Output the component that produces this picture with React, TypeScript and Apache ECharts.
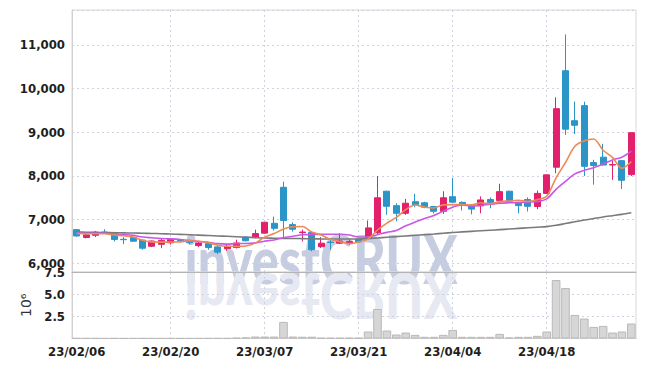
import React, { useEffect, useRef } from 'react';
import * as echarts from 'echarts';

const dates = [
  '23/02/06', '23/02/07', '23/02/08', '23/02/09', '23/02/10', '23/02/13', '23/02/14', '23/02/15', '23/02/16', '23/02/17',
  '23/02/20', '23/02/21', '23/02/22', '23/02/23', '23/02/24', '23/02/27', '23/02/28', '23/03/02', '23/03/03', '23/03/06',
  '23/03/07', '23/03/08', '23/03/09', '23/03/10', '23/03/13', '23/03/14', '23/03/15', '23/03/16', '23/03/17', '23/03/20',
  '23/03/21', '23/03/22', '23/03/23', '23/03/24', '23/03/27', '23/03/28', '23/03/29', '23/03/30', '23/03/31', '23/04/03',
  '23/04/04', '23/04/05', '23/04/06', '23/04/07', '23/04/10', '23/04/11', '23/04/12', '23/04/13', '23/04/14', '23/04/17',
  '23/04/18', '23/04/19', '23/04/20', '23/04/21', '23/04/24', '23/04/25', '23/04/26', '23/04/27', '23/04/28', '23/05/02',
];

const opens = [
  6770, 6590, 6640, 6715, 6700, 6550, 6590, 6530, 6390, 6435,
  6470, 6530, 6525, 6405, 6450, 6375, 6330, 6360, 6600, 6590,
  6690, 6915, 7740, 6885, 6700, 6705, 6380, 6485, 6460, 6450,
  6550, 6580, 6700, 7650, 7320, 7145, 7410, 7385, 7300, 7190,
  7525, 7395, 7335, 7315, 7460, 7435, 7650, 7395, 7460, 7300,
  7600, 8200, 10410, 9265, 9610, 8305, 8430, 8250, 8350, 8030,
];
const closes = [
  6625, 6650, 6710, 6705, 6545, 6540, 6505, 6345, 6510, 6525,
  6545, 6520, 6470, 6465, 6360, 6255, 6390, 6465, 6515, 6680,
  6940, 6800, 6980, 6780, 6715, 6310, 6460, 6475, 6510, 6500,
  6490, 6810, 7500, 7305, 7145, 7375, 7340, 7285, 7190, 7500,
  7400, 7340, 7240, 7450, 7385, 7640, 7420, 7320, 7305, 7600,
  8025, 9540, 9070, 9160, 8220, 8240, 8250, 8260, 7900, 8990,
];
const lows = [
  6610, 6570, 6600, 6680, 6500, 6440, 6490, 6310, 6370, 6345,
  6430, 6490, 6430, 6370, 6310, 6210, 6285, 6340, 6500, 6570,
  6680, 6750, 6600, 6725, 6500, 6275, 6350, 6310, 6440, 6420,
  6470, 6560, 6650, 7110, 6960, 7110, 7285, 7260, 7140, 7130,
  7380, 7210, 7120, 7145, 7260, 7360, 7410, 7145, 7185, 7240,
  7590, 8060, 8940, 8960, 8000, 7800, 8240, 7910, 7700, 8000,
];
const highs = [
  6785, 6670, 6740, 6780, 6720, 6600, 6600, 6540, 6520, 6570,
  6570, 6560, 6540, 6500, 6470, 6390, 6420, 6540, 6620, 6770,
  6945, 7070, 7870, 6940, 6770, 6720, 6600, 6580, 6690, 6540,
  6560, 6980, 8000, 7660, 7375, 7475, 7590, 7410, 7310, 7650,
  7955, 7415, 7350, 7530, 7505, 7820, 7660, 7410, 7510, 7665,
  8030, 9800, 11240, 9700, 9700, 8370, 8735, 8350, 8360, 9000,
];

// closes of the nine sessions before the first visible one (for the moving averages)
const prevCloses = [6700, 6680, 6720, 6690, 6700, 6680, 6720, 6700, 6690];

// long moving average
const ma60 = [
  6715, 6712, 6708, 6704, 6700, 6696, 6692, 6688, 6683, 6677,
  6670, 6662, 6653, 6644, 6635, 6626, 6617, 6607, 6597, 6587,
  6578, 6574, 6570, 6567, 6564, 6561, 6558, 6556, 6555, 6555,
  6556, 6565, 6580, 6595, 6610, 6625, 6640, 6655, 6670, 6688,
  6705, 6718, 6731, 6744, 6757, 6770, 6784, 6798, 6812, 6826,
  6840, 6870, 6910, 6950, 6990, 7025, 7060, 7090, 7120, 7155,
];

// volume, millions of shares
const volumes = [
  0.03, 0.03, 0.03, 0.02, 0.03, 0.02, 0.02, 0.03, 0.02, 0.02,
  0.02, 0.02, 0.02, 0.02, 0.03, 0.03, 0.03, 0.08, 0.12, 0.22,
  0.22, 0.22, 1.87, 0.22, 0.2, 0.2, 0.07, 0.07, 0.07, 0.07,
  0.07, 0.79, 3.33, 0.9, 0.45, 0.67, 0.41, 0.19, 0.19, 0.41,
  0.97, 0.19, 0.19, 0.19, 0.19, 0.52, 0.11, 0.19, 0.19, 0.3,
  0.79, 6.59, 5.69, 2.66, 2.25, 1.31, 1.42, 0.67, 0.79, 1.69,
];

const UP = '#e2206c';
const DOWN = '#2b95c8';
const AXIS_FONT = "'DejaVu Sans Condensed', sans-serif";

function movingAverage(period: number): number[] {
  const all = prevCloses.concat(closes);
  const off = prevCloses.length;
  return closes.map((_, i) => {
    let s = 0;
    for (let k = i + off - period + 1; k <= i + off; k++) s += all[k];
    return Math.round(s / period);
  });
}

export default function App() {
  const ref = useRef<HTMLDivElement>(null);
  useEffect(() => {
    if (!ref.current) return;
    const chart = echarts.init(ref.current, undefined, { renderer: 'svg' });
    const candleData = closes.map((c, i) => [opens[i], c, lows[i], highs[i]]);
    const gridLine = { color: '#cfd2de', type: [2, 3] as any, width: 1 };
    const labelStyle = { color: '#1e1e1e', fontSize: 13, fontWeight: 'bold' as const, fontFamily: AXIS_FONT };
    const wmFont = "900 60px Lato, 'Open Sans', sans-serif";
    chart.setOption({
      animation: false,
      backgroundColor: '#ffffff',
      grid: [
        { left: 72, right: 9, top: 10, height: 262, show: true, borderColor: '#d8d8d8', borderWidth: 1 },
        { left: 72, right: 9, top: 272, height: 66.5, show: true, borderColor: '#d8d8d8', borderWidth: 1 },
      ],
      graphic: [
        {
          type: 'text', x: 321, y: 278, z: -10, scaleX: 0.84, scaleY: 1.12,
          style: { text: 'investCRUX', font: wmFont, fill: '#c6cde1', align: 'center', verticalAlign: 'bottom', y: 12 },
        },
        {
          type: 'text', x: 321, y: 278, z: -10, scaleX: 0.84, scaleY: -1.05,
          style: { text: 'investCRUX', font: wmFont, fill: '#e6e9f2', align: 'center', verticalAlign: 'bottom', y: 12 },
        },
      ],
      xAxis: [
        {
          type: 'category', data: dates, gridIndex: 0, boundaryGap: true,
          axisLine: { show: true, lineStyle: { color: '#b4b4b4' } },
          axisTick: { show: false }, axisLabel: { show: false, interval: 9 },
          splitLine: { show: true, interval: 9, alignWithLabel: true, showMinLine: false, lineStyle: gridLine },
        },
        {
          type: 'category', data: dates, gridIndex: 1, boundaryGap: true,
          axisLine: { show: true, lineStyle: { color: '#d0d0d0' } },
          axisTick: { show: false },
          axisLabel: { interval: 9, margin: 6, ...labelStyle },
          splitLine: { show: true, interval: 9, alignWithLabel: true, showMinLine: false, lineStyle: gridLine },
        },
      ],
      yAxis: [
        {
          type: 'value', gridIndex: 0, min: 5800, max: 11800, scale: true,
          axisLine: { show: true, lineStyle: { color: '#d0d0d0' } }, axisTick: { show: false },
          axisLabel: {
            showMinLabel: false, showMaxLabel: false, margin: 7, ...labelStyle,
            formatter: (v: number) => v.toLocaleString('en-US'),
          },
          splitLine: { show: true, lineStyle: gridLine },
        },
        {
          type: 'value', gridIndex: 1, min: 0, max: 7.5, interval: 2.5,
          axisLine: { show: true, lineStyle: { color: '#d0d0d0' } }, axisTick: { show: false },
          axisLabel: { showMinLabel: false, margin: 7, ...labelStyle, formatter: (v: number) => v.toFixed(1) },
          splitLine: { show: true, lineStyle: gridLine },
          name: '10\u2076', nameLocation: 'middle', nameRotate: 90, nameGap: 34,
          nameTextStyle: { color: '#333', fontSize: 14, fontFamily: 'DejaVu Sans' },
        },
      ],
      series: [
        {
          type: 'candlestick', xAxisIndex: 0, yAxisIndex: 0, data: candleData, barWidth: '70%',
          itemStyle: { color: UP, color0: DOWN, borderColor: UP, borderColor0: DOWN, borderWidth: 1 },
        },
        {
          type: 'line', xAxisIndex: 0, yAxisIndex: 0, data: ma60, showSymbol: false, smooth: 0.3,
          lineStyle: { color: '#7a7a7a', width: 1.6 },
        },
        {
          type: 'line', xAxisIndex: 0, yAxisIndex: 0, data: movingAverage(10), showSymbol: false, smooth: 0.3,
          lineStyle: { color: '#c957e6', width: 1.6 },
        },
        {
          type: 'line', xAxisIndex: 0, yAxisIndex: 0, data: movingAverage(5), showSymbol: false, smooth: 0.3,
          lineStyle: { color: '#ee8a56', width: 1.6 },
        },
        {
          type: 'bar', xAxisIndex: 1, yAxisIndex: 1, data: volumes, barCategoryGap: '8%',
          itemStyle: { color: '#d6d6d6', borderColor: '#b9b9b9', borderWidth: 1 },
        },
      ],
    });
    return () => chart.dispose();
  }, []);
  return (
    <div
      ref={ref}
      style={{ position: 'fixed', left: 0, top: 0, width: 645, height: 366 }}
    />
  );
}
